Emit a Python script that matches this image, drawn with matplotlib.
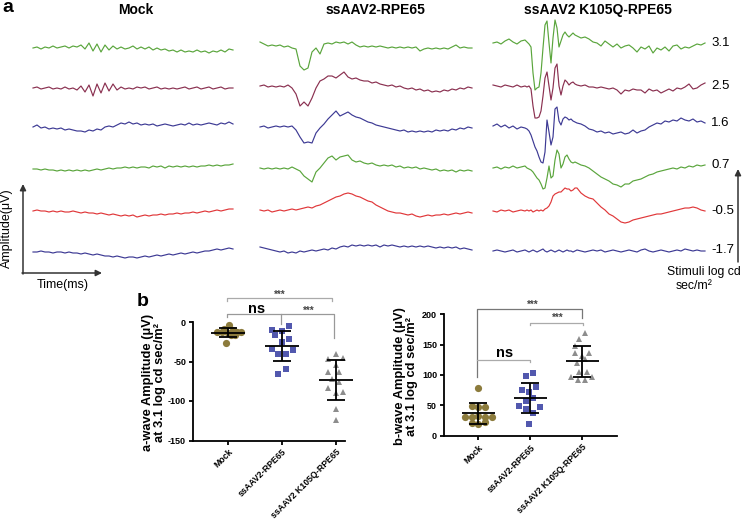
import numpy as np
import matplotlib.pyplot as plt

plt.rcParams['font.family'] = ['Liberation Sans', 'DejaVu Sans']
plt.rcParams['axes.unicode_minus'] = False

# ---------------- panel a: ERG traces (amplitude) ----------------
groups = ['Mock', 'ssAAV2-RPE65', 'ssAAV2 K105Q-RPE65']
stimuli = ['3.1', '2.5', '1.6', '0.7', '-0.5', '-1.7']
trace_colors = ['#5aa53c', '#8a3050', '#3d3a94', '#5aa53c', '#e0383a', '#3d3a94']

# sample times (ms) of each column
t_mock = np.arange(0, 201, 4)
t_ss = np.arange(0, 213, 4)
t_kq = np.concatenate([np.arange(0, 33, 4), np.arange(34, 85, 2), np.arange(88, 213, 4)])

mock_31 = [0, 1, -1, 1, 0, 2, 0, 1, 2, 0, 2, 1, 3, -1, 5, -3, 4, -4, 3, -2, 2, -1, 1, -1, 0, 2, -1, 1, -1, 1,
           -2, 0, -2, -1, -3, -2, -4, -2, -4, -3, -4, -2, -4, -3, -5, -3, -4, -2, -4, -1, -2]
mock_25 = [0, 1, -1, 0, 1, -1, 0, -1, 1, -1, 0, -2, 2, -4, 3, -8, 4, -5, 5, -3, 4, -2, 1, -1, 0, -1, 1, 0, 1, -1,
           0, 1, -1, 0, -1, 0, -1, 0, 1, -1, 0, 1, -1, 0, 1, -1, 0, 1, -1, 0, 0]
mock_16 = [0, 2, -1, 0, -2, -1, -2, -1, -3, -2, -3, -4, -4, -5, -3, -4, -2, -3, 0, 1, 0, 2, 4, 3, 5, 3, 4, 2, 3, 2,
           3, 1, 2, 3, 2, 1, 2, 3, 2, 4, 2, 3, 2, 3, 4, 3, 2, 4, 3, 5, 3]
mock_07 = [0, 0, -1, 0, -1, -1, -2, -1, -2, -1, -2, -1, -2, -1, -2, -1, 0, -1, 0, 1, 0, 1, 1, 2, 1, 2, 1, 2, 2, 1,
           3, 2, 3, 1, 3, 2, 3, 2, 3, 2, 3, 2, 3, 3, 4, 3, 4, 3, 4, 4, 5]
mock_m05 = [0, 1, 0, 0, -1, 0, -1, 0, -1, -1, 0, -1, -2, -1, -2, -2, -3, -2, -3, -4, -3, -4, -5, -4, -5, -4, -6, -5,
            -4, -5, -4, -4, -3, -4, -3, -3, -2, -3, -2, -2, -1, -2, -1, 0, -1, 0, 1, 0, 1, 2, 2]
mock_m17 = [0, 0, 1, 0, 0, -1, 0, 0, -1, 0, -1, -1, -2, -1, -2, -3, -2, -3, -4, -4, -5, -4, -5, -6, -5, -5, -6, -5,
            -4, -5, -4, -3, -4, -3, -2, -3, -2, -1, -2, -1, 0, -1, 0, 1, 1, 2, 3, 2, 3, 4, 3]

ss_31 = [5, 3, 1, 2, 1, 2, 0, 1, -1, -2, -19, -23, -21, -5, -1, -7, 3, 4, 3, 5, 4, 5, 3, 5, 2, 0, 1, 0, 1, 0,
         1, 0, -1, 0, -1, 0, -1, 0, -1, 0, -4, -2, -1, -2, -1, -2, -1, -2, 0, 2, -1, 0, -1, -1]
ss_25 = [0, 1, -1, 0, -1, 0, -1, 1, -2, -8, -20, -16, -20, -12, -2, 5, 7, 10, 10, 8, 11, 14, 9, 7, 8, 6, 5, 5, 3, 4,
         2, 1, 0, 1, -1, 0, -2, -3, -2, -4, -3, -5, -4, -6, -5, -6, -4, -5, -3, -4, -2, -3, -1, -2]
ss_16 = [0, 1, -1, 0, 1, 0, 1, 0, 1, -3, -10, -16, -15, -16, -6, -1, 3, 8, 12, 16, 11, 13, 15, 12, 10, 9, 7, 5, 4, 2,
         1, 0, -1, -2, -3, -4, -3, -5, -4, -5, -4, -5, -4, -5, -3, -4, -3, -4, -2, -3, -1, -2, 0, -1]
ss_07 = [0, -1, 0, -1, 0, -1, 0, -1, 1, -1, -3, -8, -11, -14, -4, 0, 5, 10, 12, 8, 11, 12, 13, 8, 6, 7, 5, 4, 5, 3,
         2, 3, 2, 3, 1, 2, 0, 1, 0, 1, -1, 0, -1, -2, -1, -3, -2, -3, -2, -4, -2, -3, -2, -3]
ss_m05 = [1, 0, 1, -1, 0, 1, 0, 1, 2, 1, 2, 3, 4, 3, 5, 6, 8, 10, 12, 14, 15, 17, 18, 17, 15, 14, 12, 10, 9, 6,
          4, 2, 0, -1, -2, -2, -3, -4, -3, -5, -6, -5, -4, -5, -4, -4, -3, -4, -3, -2, -3, -2, -1, -2]
ss_m17 = [1, 0, -1, -2, -3, -4, -3, -5, -4, -5, -3, -4, -3, -2, -3, -2, -1, -2, 0, -1, 1, 2, 1, 3, 2, 3, 2, 3, 2, 3,
          1, 3, 2, 3, 2, 1, 2, 1, 2, 1, 2, 1, 2, 1, 0, 1, 0, 1, 0, 1, -1, 0, -1, -2]

kq_31 = [0, 1, -1, 2, 4, 1, -1, 2, 3,
         1, -1, -4, -30, -47, -45, -44, -30, -5, 18, 22, 0, -20, 5, 23, 15, -4, 2, 8, 11, 8, 6, 8, 10, 8, 7,
         5, 6, 4, 1, 0, -3, 2, -1, -4, -1, -5, -3, -2, -5, -9, -4, -6, -3, -10, -5, -7, -4, -8, -3, -2, -6,
         -4, -5, -3, -1, -2, 0]
kq_25 = [1, 0, -1, 1, 0, -1, 1, -1, 0,
         -1, 0, -3, -20, -32, -32, -31, -25, -10, 8, 14, 0, -14, -2, 18, 22, 0, -9, 0, 6, 4, 1, 3, 4, 2, 1,
         0, 1, -1, -1, -2, -1, -2, -3, -2, -4, -8, -4, -5, -3, -4, -4, -7, -3, -5, -4, -7, -5, -3, -5, -2, -3,
         -1, 2, -3, -2, 1, 3]
kq_16 = [1, 3, 0, 2, -1, 1, -2, 0, -1,
         -2, -4, -8, -14, -20, -24, -30, -35, -36, -25, 7, -5, -18, -10, 18, 20, 6, 2, 8, 10, 9, 7, 8, 6, 5, 4,
         3, 1, -2, -3, -5, -4, -6, -5, -7, -6, -5, -7, -6, -3, -6, -4, -3, 0, 2, 4, 3, 6, 5, 7, 6, 9,
         7, 6, 8, 5, 6, 4]
kq_07 = [0, 1, -1, 1, 0, 2, 0, 1, 2,
         0, -1, -2, -4, -7, -10, -12, -16, -21, -20, -10, 2, -10, -8, 8, 18, 14, 0, 4, 11, 13, 9, 6, 5, 6, 5,
         3, 2, 0, -3, -6, -9, -11, -13, -16, -17, -19, -16, -16, -13, -12, -11, -9, -7, -6, -4, -3, -2, -1, 0,
         -1, 1, 0, 2, 1, 3, 2, 3]
kq_m05 = [0, -1, 1, 0, 1, -1, 0, 1, 0,
          1, 0, 1, -1, 0, 1, 0, 1, 0, 2, 3, 5, 9, 15, 17, 18, 19, 19, 21, 23, 22, 22, 20, 21, 23, 23,
          18, 15, 13, 12, 8, 4, 1, -3, -5, -8, -11, -12, -11, -9, -8, -7, -6, -5, -4, -3, -3, -2, -1, 0,
          1, 2, 3, 3, 4, 3, 1, 0]
kq_m17 = [0, 1, 0, -1, 0, 1, -1, 0, 1,
          0, -1, 0, 1, 0, -1, 0, 1, 2, 0, -1, 0, 1, 0, -1, 0, 1, 0, -1, 0, 1, 0, 0, -1, 0, 1,
          0, -1, 0, 1, 0, 1, -1, 0, 1, 0, -1, 0, 1, 0, -1, 1, 2, 0, -1, 0, 1, 0, -1, 0, 1, 0, 2, 1, 0, 1, 0, 0]

mock_traces = [mock_31, mock_25, mock_16, mock_07, mock_m05, mock_m17]
ss_traces = [ss_31, ss_25, ss_16, ss_07, ss_m05, ss_m17]
kq_traces = [kq_31, kq_25, kq_16, kq_07, kq_m05, kq_m17]

# ---------------- panel b: amplitudes at 3.1 log cd sec/m2 ----------------
a_mock = [-4, -9, -10, -13, -13, -14, -13, -13, -16.5, -17, -26]
a_ss = [-5, -10, -12, -17, -21.5, -25.7, -34, -36, -40, -40, -60, -66]
a_kq = [-40, -45, -47, -54, -63, -63, -72, -75.5, -84, -89.5, -89, -110.5, -124]

b_mock = [79, 49, 48, 48, 31, 30, 32, 30, 30, 21, 19, 22]
b_ss = [104, 98, 80, 75, 72, 62, 57, 49, 44, 48, 37, 20]
b_kq = [170, 160, 148, 136, 131, 136, 126, 119, 105, 105, 96, 92, 92, 96]

# horizontal scatter of the dots (category units)
a_jit = [[0.02, -0.07, 0.09, -0.20, -0.11, 0.0, 0.17, 0.24, 0.06, 0.13, -0.04],
         [0.13, -0.19, 0.0, -0.13, 0.13, 0.0, -0.19, 0.20, -0.07, 0.07, 0.07, -0.07],
         [0.0, 0.13, -0.15, 0.0, -0.15, 0.06, -0.07, 0.06, -0.15, 0.0, 0.13, 0.0, 0.0]]
b_jit = [[0, -0.13, 0, 0.13, -0.25, -0.12, 0, 0.13, 0.27, -0.12, 0, 0.13],
         [0.06, -0.08, 0.12, -0.15, -0.02, 0.06, -0.08, -0.21, -0.08, 0.19, 0.06, -0.02],
         [0.06, -0.06, -0.13, -0.13, 0, 0.13, 0.06, -0.10, -0.06, 0.10, -0.21, -0.08, 0.06, 0.19]]

dot_colors = ['#8c7b3c', '#5258ae', '#8d8d8d']
dot_markers = ['o', 's', '^']
dot_sizes = [5.2, 4.8, 4.8]

fig = plt.figure(figsize=(7.43, 5.24), dpi=100)

# background axes in pixel units for panel a and free text
bg = fig.add_axes([0, 0, 1, 1])
bg.set_xlim(0, 743)
bg.set_ylim(524, 0)
bg.axis('off')

col_x0 = [33, 260, 493]
row_y0 = [[48, 88, 127, 169, 211, 252],
          [47, 86, 127, 168, 211, 248],
          [43, 86, 127, 168, 211, 251]]
for c, (t, traces) in enumerate(zip([t_mock, t_ss, t_kq], [mock_traces, ss_traces, kq_traces])):
    for r, amp in enumerate(traces):
        bg.plot(col_x0[c] + t, row_y0[c][r] - np.array(amp), color=trace_colors[r], lw=0.85)

for x, g in zip([136, 375, 598], groups):
    bg.text(x, 10, g, ha='center', va='center', fontsize=10, fontweight='bold')
for y, s in zip([43, 86, 123, 165, 211, 250], stimuli):
    bg.text(711, y, s, ha='left', va='center', fontsize=9.5)

arrow = dict(arrowstyle='-|>', color='#333333', lw=1.1, mutation_scale=9, shrinkA=0, shrinkB=0)
bg.annotate('', xy=(23, 184), xytext=(23, 274), arrowprops=arrow)
bg.annotate('', xy=(102, 273), xytext=(22, 273), arrowprops=arrow)
bg.annotate('', xy=(738, 169), xytext=(738, 262), arrowprops=arrow)
bg.text(7, 228, 'Amplitude(μV)', rotation=90, ha='center', va='center', fontsize=9)
bg.text(63, 285, 'Time(ms)', ha='center', va='center', fontsize=9)
bg.text(704, 272, 'Stimuli log cd', ha='center', va='center', fontsize=8.8)
bg.text(694, 286, 'sec/m²', ha='center', va='center', fontsize=8.8)

bg.text(8, 8, 'a', ha='center', va='center', fontsize=14, fontweight='bold')
bg.text(143, 301, 'b', ha='center', va='center', fontsize=14, fontweight='bold')
bg.text(154, 382, 'a-wave Amplitude (μV)\nat 3.1 log cd sec/m²', rotation=90, ha='center', va='center',
        fontsize=9.3, fontweight='bold', linespacing=1.1, multialignment='center')
bg.text(406, 376, 'b-wave Amplitude (μV)\nat 3.1 log cd sec/m²', rotation=90, ha='center', va='center',
        fontsize=9.3, fontweight='bold', linespacing=1.1, multialignment='center')


def dot_plot(ax, data, jits):
    for i, (vals, jit) in enumerate(zip(data, jits)):
        ax.plot(i + np.array(jit), vals, ls='none', marker=dot_markers[i], ms=dot_sizes[i],
                color=dot_colors[i], mew=0, clip_on=False, zorder=3)
        m = np.mean(vals)
        s = np.std(vals, ddof=1)
        ax.hlines(m, i - 0.32, i + 0.32, color='k', lw=1.3, zorder=4, clip_on=False)
        ax.vlines(i, m - s, m + s, color='k', lw=1.3, zorder=4)
        ax.hlines([m - s, m + s], i - 0.17, i + 0.17, color='k', lw=1.3, zorder=4)


def bracket(ax, x1, x2, y, drop1, drop2, color):
    ax.plot([x1, x1, x2, x2], [y - drop1, y, y, y - drop2], color=color, lw=0.9, clip_on=False)


def style_axes(ax, yticks):
    ax.spines[['top', 'right']].set_visible(False)
    ax.spines[['left', 'bottom']].set_linewidth(1.3)
    ax.tick_params(width=1.3, length=3, pad=2)
    ax.set_yticks(yticks)
    ax.set_yticklabels([str(v) for v in yticks], fontsize=6.5, fontweight='bold')
    ax.set_xticks([0, 1, 2])
    ax.set_xticklabels(groups, rotation=45, ha='right', rotation_mode='anchor',
                       fontsize=6.3, fontweight='bold')
    ax.patch.set_alpha(0)


axA = fig.add_axes([193 / 743, 1 - 440.5 / 524, 152 / 743, 118.5 / 524])
axA.set_xlim(-0.65, 2.17)
axA.set_ylim(-150, 0)
dot_plot(axA, [a_mock, a_ss, a_kq], a_jit)
style_axes(axA, [0, -50, -100, -150])
bracket(axA, -0.02, 1.93, 30, 4, 4, '#aaaaaa')
bracket(axA, -0.01, 0.98, 10, 4, 0, '#999999')
bracket(axA, 0.98, 1.96, 10, 12, 30, '#999999')
axA.text(0.96, 35, '***', ha='center', va='center', fontsize=7, fontweight='bold', color='#444444')
axA.text(0.53, 16, 'ns', ha='center', va='center', fontsize=10.5, fontweight='bold')
axA.text(1.5, 14, '***', ha='center', va='center', fontsize=7, fontweight='bold', color='#444444')

axB = fig.add_axes([444 / 743, 1 - 435.7 / 524, 173 / 743, 121.4 / 524])
axB.set_xlim(-0.66, 2.67)
axB.set_ylim(0, 200)
dot_plot(axB, [b_mock, b_ss, b_kq], b_jit)
style_axes(axB, [0, 50, 100, 150, 200])
bracket(axB, -0.02, 2.0, 208, 111.5, 13.6, '#777777')
bracket(axB, -0.02, 0.99, 124.7, 0, 3, '#aaaaaa')
bracket(axB, 1.0, 2.02, 186, 3, 3, '#aaaaaa')
axB.text(1.04, 216, '***', ha='center', va='center', fontsize=7, fontweight='bold', color='#444444')
axB.text(0.51, 137, 'ns', ha='center', va='center', fontsize=10.5, fontweight='bold')
axB.text(1.53, 194, '***', ha='center', va='center', fontsize=7, fontweight='bold', color='#444444')

fig.savefig('out.png', dpi=100, facecolor='white')
